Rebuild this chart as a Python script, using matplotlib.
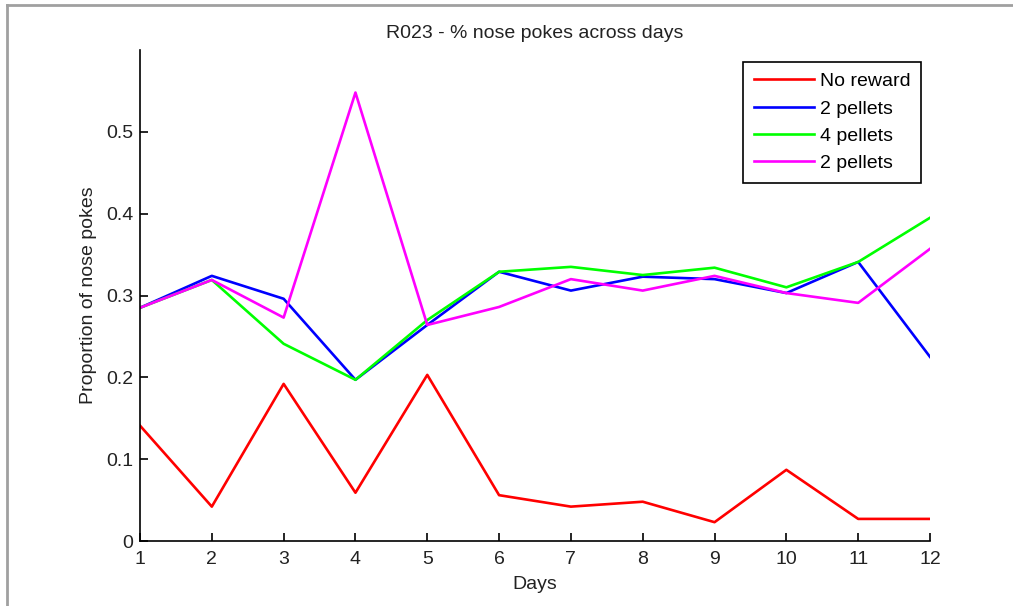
import matplotlib
matplotlib.use("Agg")
import matplotlib.pyplot as plt
from matplotlib.lines import Line2D

# values
days = list(range(1, 13))
no_reward = [0.141, 0.042, 0.192, 0.059, 0.203, 0.056, 0.042, 0.048, 0.023, 0.087, 0.027, 0.027]
pellets2_a = [0.285, 0.324, 0.296, 0.197, 0.264, 0.329, 0.306, 0.323, 0.320, 0.303, 0.341, 0.225]
pellets4 = [0.285, 0.319, 0.241, 0.197, 0.270, 0.329, 0.335, 0.325, 0.334, 0.310, 0.341, 0.395]
pellets2_b = [0.285, 0.319, 0.273, 0.548, 0.264, 0.286, 0.320, 0.306, 0.324, 0.303, 0.291, 0.357]
labels = ["No reward", "2 pellets", "4 pellets", "2 pellets"]
y_ticks = [0, 0.1, 0.2, 0.3, 0.4, 0.5]

plt.rcParams['font.family'] = ['Liberation Sans', 'DejaVu Sans']
plt.rcParams['font.size'] = 14

W, H = 1013, 606
fig = plt.figure(figsize=(W / 100, H / 100), dpi=100)
ax = fig.add_axes([140 / W, 1 - 541 / H, (930 - 140) / W, (541 - 50) / H])

series = [no_reward, pellets2_a, pellets4, pellets2_b]
colors = ["#ff0000", "#0000ff", "#00ff00", "#ff00ff"]
for vals, c, lab in zip(series, colors, labels):
    ax.plot(days, vals, color=c, lw=1.9, label=lab)

ax.set_xlim(1, 12)
ax.set_ylim(0, 0.6)
ax.set_xticks(days)
ax.set_yticks(y_ticks)
ax.set_yticklabels([("%g" % v) for v in y_ticks])
ax.spines['top'].set_visible(False)
ax.spines['right'].set_visible(False)
for s in ('left', 'bottom'):
    ax.spines[s].set_linewidth(1.2)
ax.tick_params(direction='in', length=6, width=1.2, colors='black', labelcolor='#222222')
ax.tick_params(axis='x', pad=7)
ax.tick_params(axis='y', pad=5)

ax.set_title("R023 - % nose pokes across days", fontsize=14, pad=9, color='#222222')
ax.set_xlabel("Days", color='#222222', labelpad=6)
ax.set_ylabel("Proportion of nose pokes", color='#222222', labelpad=6)

leg = ax.legend(loc='upper right', bbox_to_anchor=(0.9886, 0.9756), borderaxespad=0,
                fancybox=False, edgecolor='black', framealpha=1, handlelength=3.1,
                handletextpad=0.3, labelspacing=0.5, borderpad=0.55)
leg.get_frame().set_linewidth(1.2)

# gray window border at left/top
fig.add_artist(Line2D([7 / W, 7 / W], [0, 1 - 5 / H], transform=fig.transFigure,
                      color='#a0a0a0', lw=2))
fig.add_artist(Line2D([7 / W, 1], [1 - 5 / H, 1 - 5 / H], transform=fig.transFigure,
                      color='#a0a0a0', lw=2))

fig.savefig("out.png", dpi=100)
